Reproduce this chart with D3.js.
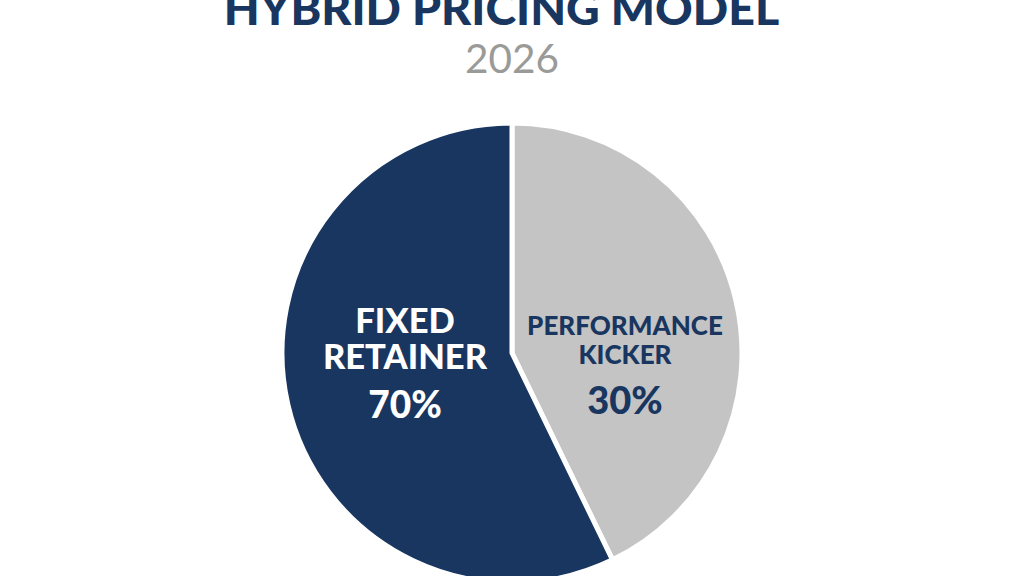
<!DOCTYPE html>
<html>
<head>
<meta charset="utf-8">
<script src="https://cdn.jsdelivr.net/npm/d3@7"></script>
<style>
  html, body { margin: 0; padding: 0; background: #fff; overflow: hidden; }
  text { font-family: Lato, sans-serif; text-anchor: middle; }
</style>
</head>
<body>
<svg id="chart" width="1024" height="576"></svg>
<script>
// slice shares are what the picture draws, the printed labels say 70/30
var categories = ["Performance Kicker", "Fixed Retainer"];
var drawn_shares = [42.8, 57.2];
var slice_colors = ["#c4c4c4", "#183660"];
var label_lines = [["PERFORMANCE", "KICKER"], ["FIXED", "RETAINER"]];
var percent_labels = ["30%", "70%"];
var title = "HYBRID PRICING MODEL";
var subtitle = "2026";

var navy = "#183660";
var svg = d3.select("#chart");

svg.append("text")
    .attr("x", 501.5).attr("y", 24.5)
    .attr("font-size", 46.5).attr("font-weight", 900)
    .attr("fill", navy)
    .text(title);

svg.append("text")
    .attr("x", 512).attr("y", 73)
    .attr("font-size", 40.5).attr("font-weight", 400)
    .attr("fill", "#9a9a98")
    .text(subtitle);

var pie = d3.pie().sort(null).value(function(d) { return d; });
var arc = d3.arc().innerRadius(0).outerRadius(230);

var g = svg.append("g").attr("transform", "translate(512,353)");
g.selectAll("path")
    .data(pie(drawn_shares))
    .enter().append("path")
    .attr("d", arc)
    .attr("fill", function(d, i) { return slice_colors[i]; })
    .attr("stroke", "#fff")
    .attr("stroke-width", 5)
    .attr("stroke-linejoin", "miter");

var label_specs = [
    { x: 625, ys: [335, 364], size: 26, pct_y: 414, pct_size: 38, fill: navy },
    { x: 405, ys: [333, 369], size: 34.5, pct_y: 418, pct_size: 37, fill: "#fff" }
];

label_lines.forEach(function(lines, i) {
    var spec = label_specs[i];
    lines.forEach(function(line, j) {
        svg.append("text")
            .attr("x", spec.x).attr("y", spec.ys[j])
            .attr("font-size", spec.size).attr("font-weight", 900)
            .attr("fill", spec.fill)
            .text(line);
    });
    svg.append("text")
        .attr("x", spec.x).attr("y", spec.pct_y)
        .attr("font-size", spec.pct_size).attr("font-weight", 900)
        .attr("fill", spec.fill)
        .text(percent_labels[i]);
});
</script>
</body>
</html>
